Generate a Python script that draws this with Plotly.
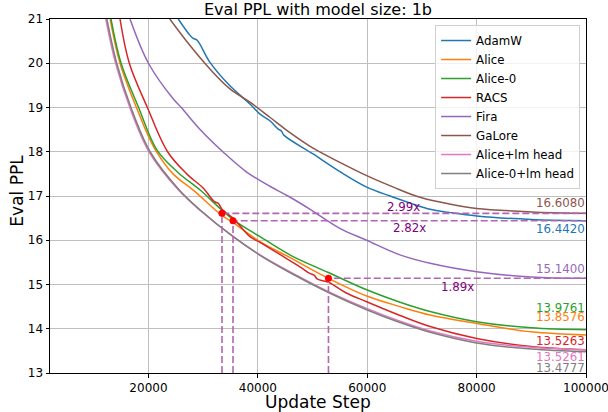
import plotly.graph_objects as go

FONT = "DejaVu Sans"

# ---------------- data ----------------
steps_adamw = [25450, 27600, 28200, 28900, 31250, 34900, 38560, 40400, 42200, 43740, 44300, 44800,
               50100, 55000, 59900, 64200, 71500, 75000, 80000, 90000, 100000]
ppl_adamw = [21.0, 20.63, 20.56, 20.52, 20.02, 19.49, 19.08, 18.85, 18.70, 18.51, 18.47, 18.37,
             17.95, 17.55, 17.20, 17.00, 16.70, 16.63, 16.55, 16.47, 16.442]

steps_alice = [13000, 14800, 17800, 21000, 24500, 28300, 33445, 35460, 40400, 46000, 52910,
               59900, 66000, 71500, 80000, 90000, 100000]
ppl_alice = [21.0, 20.0, 19.0, 18.1, 17.5, 17.12, 16.56, 16.40, 15.97, 15.60, 15.14,
             14.74, 14.50, 14.31, 14.12, 13.93, 13.8576]

steps_alice0 = [13150, 15000, 18200, 21500, 25500, 29400, 33445, 36000, 40400, 46000, 52910,
                59900, 66000, 71500, 80000, 90000, 100000]
ppl_alice0 = [21.0, 20.0, 19.0, 18.05, 17.52, 17.14, 16.68, 16.42, 16.08, 15.66, 15.27,
              14.88, 14.60, 14.39, 14.16, 14.02, 13.9761]

steps_racs = [14800, 16500, 19800, 23500, 27000, 30000, 32000, 32800, 33445, 35460, 38560,
              40400, 44000, 47700, 49500, 50300, 50900, 52910, 56000, 59900, 66000, 71500,
              80000, 90000, 100000]
ppl_racs = [21.0, 20.0, 19.0, 18.0, 17.5, 17.18, 16.88, 16.83, 16.70, 16.50, 16.08,
            15.95, 15.68, 15.40, 15.25, 15.21, 15.12, 15.05, 14.82, 14.61, 14.30, 14.05,
            13.78, 13.60, 13.5263]

steps_fira = [16630, 20000, 24560, 26000, 29400, 33700, 37960, 42200, 45500, 49560, 55000,
              59900, 65990, 71500, 80000, 90000, 100000]
ppl_fira = [21.0, 20.0, 19.19, 19.0, 18.51, 17.99, 17.54, 17.22, 17.0, 16.70, 16.27,
            16.0, 15.67, 15.48, 15.29, 15.17, 15.14]

steps_galore = [23900, 27600, 31250, 34900, 38560, 42200, 46000, 50100, 55000, 59900, 64800,
                69650, 75000, 80000, 90000, 100000]
ppl_galore = [21.0, 20.40, 19.87, 19.42, 19.12, 18.78, 18.42, 18.08, 17.76, 17.46, 17.20,
              16.97, 16.82, 16.72, 16.64, 16.608]

steps_alice_lm = [12200, 14000, 16600, 20100, 25450, 29400, 35500, 40400, 46000, 52910, 59900,
                  66000, 71500, 80000, 90000, 100000]
ppl_alice_lm = [21.0, 20.0, 19.0, 18.0, 17.14, 16.68, 16.08, 15.67, 15.28, 14.84, 14.46,
                14.17, 13.95, 13.72, 13.58, 13.5261]

steps_alice0_lm = [12400, 14200, 16800, 20300, 25600, 29400, 35500, 40400, 46000, 52910, 59900,
                   66000, 71500, 80000, 90000, 100000]
ppl_alice0_lm = [21.0, 20.0, 19.0, 18.0, 17.14, 16.69, 16.08, 15.66, 15.26, 14.82, 14.43,
                 14.14, 13.92, 13.68, 13.54, 13.4777]

names = ["AdamW", "Alice", "Alice-0", "RACS", "Fira", "GaLore", "Alice+lm head", "Alice-0+lm head"]
colors = ["#1f77b4", "#ff7f0e", "#2ca02c", "#d62728", "#9467bd", "#8c564b", "#e377c2", "#7f7f7f"]
all_steps = [steps_adamw, steps_alice, steps_alice0, steps_racs, steps_fira, steps_galore,
             steps_alice_lm, steps_alice0_lm]
all_ppl = [ppl_adamw, ppl_alice, ppl_alice0, ppl_racs, ppl_fira, ppl_galore,
           ppl_alice_lm, ppl_alice0_lm]

# speed-up markers (step where Alice reaches baseline final PPL)
speed_steps = [33445, 35460, 52910]
speed_ppl = [16.608, 16.442, 15.14]
total_steps = 100000

x_ticks = [20000, 40000, 60000, 80000, 100000]

# label vertical placement (layout only)
end_label_y = [16.25, 14.26, 14.476, 13.73, 15.34, 16.835, 13.37, 13.12]
speed_label_dy = [0.15, -0.16, -0.19]

# ---------------- figure ----------------
fig = go.Figure()
for n, c, xs, ys in zip(names, colors, all_steps, all_ppl):
    fig.add_trace(go.Scatter(x=xs, y=ys, mode="lines", name=n,
                             line=dict(color=c, width=1.5, shape="spline", smoothing=1.0)))

dash_color = "rgb(179,102,179)"
for xs, ys in zip(speed_steps, speed_ppl):
    fig.add_trace(go.Scatter(x=[xs, xs, total_steps], y=[13, ys, ys], mode="lines",
                             showlegend=False, hoverinfo="skip",
                             line=dict(color=dash_color, width=1.6, dash="7px,3px")))
fig.add_trace(go.Scatter(x=speed_steps, y=speed_ppl, mode="markers", showlegend=False,
                         marker=dict(color="#ff0000", size=7)))

annotations = []
for n, c, xs, ys, ly in zip(names, colors, all_steps, all_ppl, end_label_y):
    annotations.append(dict(x=xs[-1], y=ly, xref="x", yref="y", text=f"{ys[-1]:.4f}",
                            showarrow=False, xanchor="right", yanchor="middle", xshift=1,
                            font=dict(family=FONT, size=11.8, color=c)))
for xs, ys, dy in zip(speed_steps, speed_ppl, speed_label_dy):
    annotations.append(dict(x=(xs + total_steps) / 2, y=ys + dy, xref="x", yref="y",
                            text=f"{total_steps / xs:.2f}x", showarrow=False,
                            xanchor="center", yanchor="middle",
                            font=dict(family=FONT, size=11.8, color="#800080")))
# axis titles
annotations.append(dict(x=0.5, y=-0.081, xref="paper", yref="paper", text="Update Step",
                        showarrow=False, xanchor="center", yanchor="middle",
                        font=dict(family=FONT, size=17, color="black")))
annotations.append(dict(x=-0.0616, y=0.515, xref="paper", yref="paper", text="Eval PPL",
                        showarrow=False, xanchor="center", yanchor="middle", textangle=-90,
                        font=dict(family=FONT, size=17, color="black")))

grid = "#bfbfbf"
fig.update_layout(
    width=608, height=412,
    margin=dict(l=50, r=22, t=19, b=39, autoexpand=False),
    paper_bgcolor="white", plot_bgcolor="white",
    font=dict(family=FONT, color="black"),
    title=dict(text="Eval PPL with model size: 1b", x=0.5, xref="paper", xanchor="center",
               y=1 - 9 / 412, yref="container", yanchor="middle",
               font=dict(family=FONT, size=16, color="black")),
    legend=dict(x=0.989, y=0.983, xanchor="right", yanchor="top",
                bgcolor="rgba(255,255,255,0.8)", bordercolor="#d0d0d0", borderwidth=1,
                font=dict(family=FONT, size=11.8, color="black")),
    annotations=annotations,
    xaxis=dict(range=[2000, 100000], tickvals=x_ticks, ticktext=[str(v) for v in x_ticks],
               ticklabeloverflow="allow",
               showgrid=True, gridcolor=grid, gridwidth=1,
               showline=True, linecolor="black", linewidth=1, mirror=True,
               ticks="outside", ticklen=3.5, tickcolor="black", zeroline=False,
               tickfont=dict(family=FONT, size=12, color="black")),
    yaxis=dict(range=[13, 21], dtick=1, tick0=13, showgrid=True, gridcolor=grid, gridwidth=1,
               showline=True, linecolor="black", linewidth=1, mirror=True,
               ticks="outside", ticklen=3.5, tickcolor="black", zeroline=False,
               tickfont=dict(family=FONT, size=12, color="black")),
)

fig.write_html("out.html", config={"displayModeBar": False},
               post_script="document.body.style.margin='0';document.body.style.overflow='hidden';")
